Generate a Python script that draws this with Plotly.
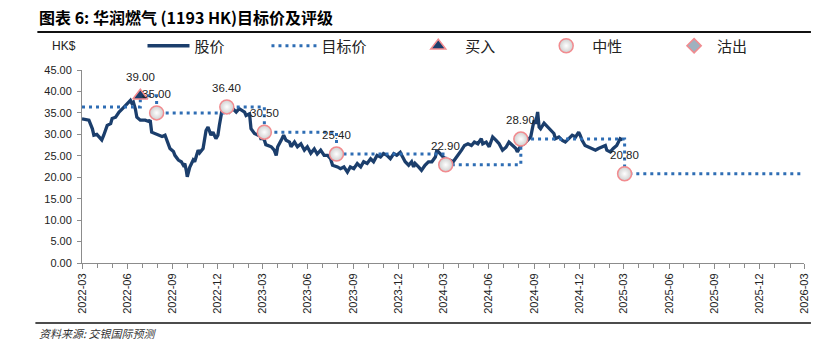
import plotly.graph_objects as go

# ---------------- data ----------------
price_dates = [
    "2022-03-01","2022-03-15","2022-03-22","2022-03-25","2022-03-31","2022-04-07","2022-04-10","2022-04-14",
    "2022-04-21","2022-04-28","2022-05-01","2022-05-08","2022-05-15","2022-05-22","2022-05-28","2022-06-03",
    "2022-06-07","2022-06-10","2022-06-13","2022-06-17","2022-06-20","2022-06-27","2022-07-07","2022-07-14",
    "2022-07-17","2022-07-20","2022-07-27","2022-08-03","2022-08-10","2022-08-16","2022-08-19","2022-08-26",
    "2022-09-02","2022-09-05","2022-09-12","2022-09-18","2022-09-22","2022-09-25","2022-09-28","2022-09-30",
    "2022-10-05","2022-10-12","2022-10-15","2022-10-22","2022-10-25","2022-11-01","2022-11-07","2022-11-11",
    "2022-11-17","2022-11-21","2022-11-27","2022-12-01","2022-12-04","2022-12-08","2022-12-11","2022-12-18",
    "2022-12-24","2022-12-31","2023-01-07","2023-01-13","2023-01-20","2023-01-24","2023-01-27","2023-02-03",
    "2023-02-06","2023-02-13","2023-02-20","2023-02-24","2023-02-26","2023-03-02","2023-03-05","2023-03-08",
    "2023-03-19","2023-03-25","2023-03-29","2023-04-01","2023-04-08","2023-04-13","2023-04-18","2023-04-25",
    "2023-04-28","2023-05-05","2023-05-11","2023-05-18","2023-05-25","2023-05-31","2023-06-07","2023-06-14",
    "2023-06-20","2023-06-27","2023-07-04","2023-07-11","2023-07-17","2023-07-21","2023-07-31","2023-08-06",
    "2023-08-13","2023-08-20","2023-08-26","2023-09-02","2023-09-09","2023-09-16","2023-09-22","2023-09-29",
    "2023-10-06","2023-10-12","2023-10-19","2023-10-26","2023-11-01","2023-11-08","2023-11-15","2023-11-22",
    "2023-11-28","2023-12-05","2023-12-08","2023-12-15","2023-12-22","2023-12-28","2024-01-01","2024-01-04",
    "2024-01-11","2024-01-17","2024-01-24","2024-01-31","2024-02-07","2024-02-14","2024-02-17","2024-02-24",
    "2024-03-01","2024-03-08","2024-03-14","2024-03-21","2024-03-28","2024-04-03","2024-04-07","2024-04-13",
    "2024-04-20","2024-04-27","2024-05-03","2024-05-10","2024-05-17","2024-05-20","2024-05-27","2024-06-02",
    "2024-06-09","2024-06-16","2024-06-22","2024-06-29","2024-07-06","2024-07-12","2024-07-19","2024-07-26",
    "2024-07-29","2024-08-05","2024-08-12","2024-08-19","2024-08-25","2024-08-29","2024-09-01","2024-09-04",
    "2024-09-08","2024-09-11","2024-09-14","2024-09-21","2024-09-28","2024-10-04","2024-10-11","2024-10-14",
    "2024-10-21","2024-10-28","2024-11-03","2024-11-10","2024-11-17","2024-11-24","2024-11-30","2024-12-03",
    "2024-12-07","2024-12-13","2024-12-20","2024-12-27","2025-01-03","2025-01-09","2025-01-16","2025-01-23",
    "2025-01-26","2025-02-02","2025-02-08","2025-02-15","2025-02-22","2025-02-27",
]
price_values = [
    33.6,33.3,31.3,29.8,30.0,29.0,28.7,29.8,
    32.1,32.5,33.7,34.0,35.2,36.0,36.7,37.5,
    37.9,37.2,37.5,35.9,34.0,33.3,33.3,33.0,
    33.3,30.5,30.2,29.9,29.5,29.8,29.0,26.7,
    26.0,25.1,24.0,23.6,22.8,23.2,21.6,20.1,
    22.3,24.0,23.6,26.3,25.7,26.7,30.9,31.7,
    29.8,30.5,29.0,29.8,32.1,34.8,36.7,36.0,
    35.2,36.0,35.2,36.0,35.6,35.2,34.4,34.8,
    31.3,30.2,29.8,29.8,29.0,29.0,28.7,27.6,
    27.1,26.3,25.1,27.1,28.6,29.8,28.6,28.2,
    27.1,28.2,27.1,27.8,26.3,27.1,25.6,26.6,
    25.4,26.3,25.1,25.1,24.3,22.8,22.4,22.0,
    22.4,21.2,22.4,22.0,23.2,22.4,23.6,23.2,
    24.3,23.6,25.1,24.7,25.5,25.1,24.3,25.5,
    25.1,25.8,25.1,23.6,22.8,23.6,22.4,23.2,
    22.4,21.6,22.8,23.6,23.6,24.7,26.3,25.4,
    24.7,24.1,24.0,23.6,24.7,25.5,26.3,27.4,
    27.8,27.4,28.2,27.8,29.0,27.8,28.2,27.1,
    29.4,28.6,27.8,26.3,27.0,28.2,27.4,26.7,
    25.9,27.4,27.8,28.6,29.4,31.7,33.3,32.5,
    35.2,31.7,31.3,32.6,31.7,30.9,30.2,29.0,
    29.4,28.6,28.2,29.0,29.8,29.4,30.5,29.8,
    28.6,27.4,27.0,26.7,26.3,26.7,27.0,27.4,
    26.3,25.9,26.7,27.4,29.0,28.7,
]

target_dates = ["2022-03-01", "2022-06-27", "2022-07-30", "2022-12-19", "2023-03-05",
                "2023-07-29", "2024-03-06", "2024-08-05", "2025-03-03", "2026-03-01"]
target_values = [36.4, 39.0, 35.0, 36.4, 30.5, 25.4, 22.9, 28.9, 20.8, 20.8]

buy_dates = ["2022-06-27"]
buy_values = [39.0]
neutral_dates = ["2022-07-30", "2022-12-19", "2023-03-05", "2023-07-29",
                 "2024-03-06", "2024-08-05", "2025-03-03"]
neutral_values = [35.0, 36.4, 30.5, 25.4, 22.9, 28.9, 20.8]

x_tick_vals = ["2022-03-01", "2022-06-01", "2022-09-01", "2022-12-01", "2023-03-01",
               "2023-06-01", "2023-09-01", "2023-12-01", "2024-03-01", "2024-06-01",
               "2024-09-01", "2024-12-01", "2025-03-01", "2025-06-01", "2025-09-01",
               "2025-12-01", "2026-03-01"]
x_tick_text = ["2022-03", "2022-06", "2022-09", "2022-12", "2023-03", "2023-06", "2023-09",
               "2023-12", "2024-03", "2024-06", "2024-09", "2024-12", "2025-03", "2025-06",
               "2025-09", "2025-12", "2026-03"]

title_text = "图表 6: 华润燃气 (1193 HK)目标价及评级"
source_text = "资料来源: 交银国际预测"
unit_text = "HK$"

# ---------------- style ----------------
NAVY = "#1b3e6c"
DOT_BLUE = "#2e6db4"
PINK = "#f28b8f"
CJK = "Noto Sans CJK SC"
NUM = "Liberation Sans"

W, H = 817, 352
L, R, T, B = 82, 7, 70, 89
PW, PH = W - L - R, H - T - B


def px_x(x):
    return (x - L) / PW


def px_y(y):
    return (H - B - y) / PH


fig = go.Figure()

fig.add_trace(go.Scatter(
    x=price_dates, y=price_values, mode="lines", name="股价",
    line=dict(color=NAVY, width=3.3), legend="legend",
))
fig.add_trace(go.Scatter(
    x=target_dates, y=target_values, mode="lines", name="目标价",
    line=dict(color=DOT_BLUE, width=3, dash="3px,4px", shape="hv"), legend="legend2",
))
fig.add_trace(go.Scatter(
    x=buy_dates, y=buy_values, mode="markers", name="买入",
    marker=dict(symbol="triangle-up", size=13, color=NAVY, line=dict(color=PINK, width=1.5)),
    legend="legend3",
))
fig.add_trace(go.Scatter(
    x=neutral_dates, y=neutral_values, mode="markers", name="中性",
    marker=dict(symbol="circle", size=14, color="#cfcfcf",
                gradient=dict(type="radial", color="#ffffff"),
                line=dict(color=PINK, width=1.5)),
    legend="legend4",
))
fig.add_trace(go.Scatter(
    x=[None], y=[None], mode="markers", name="沽出",
    marker=dict(symbol="diamond", size=11, color="#9fb1bf", line=dict(color=PINK, width=1.5)),
    legend="legend5",
))

annotations = []
for d, v in zip(buy_dates + neutral_dates, buy_values + neutral_values):
    annotations.append(dict(
        x=d, y=v, xref="x", yref="y", text=f"{v:.2f}", showarrow=False,
        yshift=19, font=dict(family=NUM, size=11.5, color="#222"),
    ))

annotations += [
    dict(x=px_x(37), y=px_y(17), xref="paper", yref="paper", text=f"<b>{title_text}</b>",
         showarrow=False, xanchor="left", yanchor="middle",
         font=dict(family=CJK, size=16, color="#000")),
    dict(x=px_x(50), y=px_y(46), xref="paper", yref="paper", text=unit_text,
         showarrow=False, xanchor="left", yanchor="middle",
         font=dict(family=NUM, size=12, color="#222")),
    dict(x=px_x(37), y=px_y(333), xref="paper", yref="paper", text=source_text,
         showarrow=False, xanchor="left", yanchor="middle",
         font=dict(family=CJK, size=11, color="#333", style="italic")),
]

shapes = [
    dict(type="line", xref="paper", yref="paper", x0=px_x(37), x1=px_x(817),
         y0=px_y(32), y1=px_y(32), line=dict(color="#111", width=2)),
    dict(type="line", xref="paper", yref="paper", x0=px_x(35), x1=px_x(817),
         y0=px_y(323), y1=px_y(323), line=dict(color="#111", width=1.5)),
]

leg_common = dict(orientation="h", yanchor="middle", xanchor="left", bgcolor="rgba(0,0,0,0)",
                  borderwidth=0, font=dict(family=CJK, size=15, color="#222"))
fig.update_layout(
    width=W, height=H,
    margin=dict(l=L, r=R, t=T, b=B, pad=0),
    paper_bgcolor="white", plot_bgcolor="white",
    showlegend=True,
    legend=dict(x=px_x(143), y=px_y(46), itemwidth=42, **leg_common),
    legend2=dict(x=px_x(268), y=px_y(46), itemwidth=45, **leg_common),
    legend3=dict(x=px_x(414), y=px_y(46), itemwidth=44, **leg_common),
    legend4=dict(x=px_x(544), y=px_y(46), itemwidth=42, **leg_common),
    legend5=dict(x=px_x(676), y=px_y(46), itemwidth=36, **leg_common),
    xaxis=dict(
        type="date", range=["2022-03-01", "2026-03-01"],
        tickmode="array", tickvals=x_tick_vals, ticktext=x_tick_text, tickangle=-90,
        ticks="outside", ticklen=5, tickcolor="#8c8c8c",
        minor=dict(dtick="M1", tick0="2022-03-01", ticks="outside", ticklen=4, tickcolor="#8c8c8c"),
        showline=True, linecolor="#8c8c8c", linewidth=1, showgrid=False, zeroline=False,
        tickfont=dict(family=NUM, size=11, color="#222"),
    ),
    yaxis=dict(
        range=[0, 45], dtick=5, tick0=0, tickformat=".2f",
        ticks="outside", ticklen=4, tickcolor="#8c8c8c",
        showline=True, linecolor="#8c8c8c", linewidth=1, showgrid=False, zeroline=False,
        tickfont=dict(family=NUM, size=11, color="#222"), ticklabelstandoff=3,
    ),
    annotations=annotations,
    shapes=shapes,
)

fig.write_html("out.html")
